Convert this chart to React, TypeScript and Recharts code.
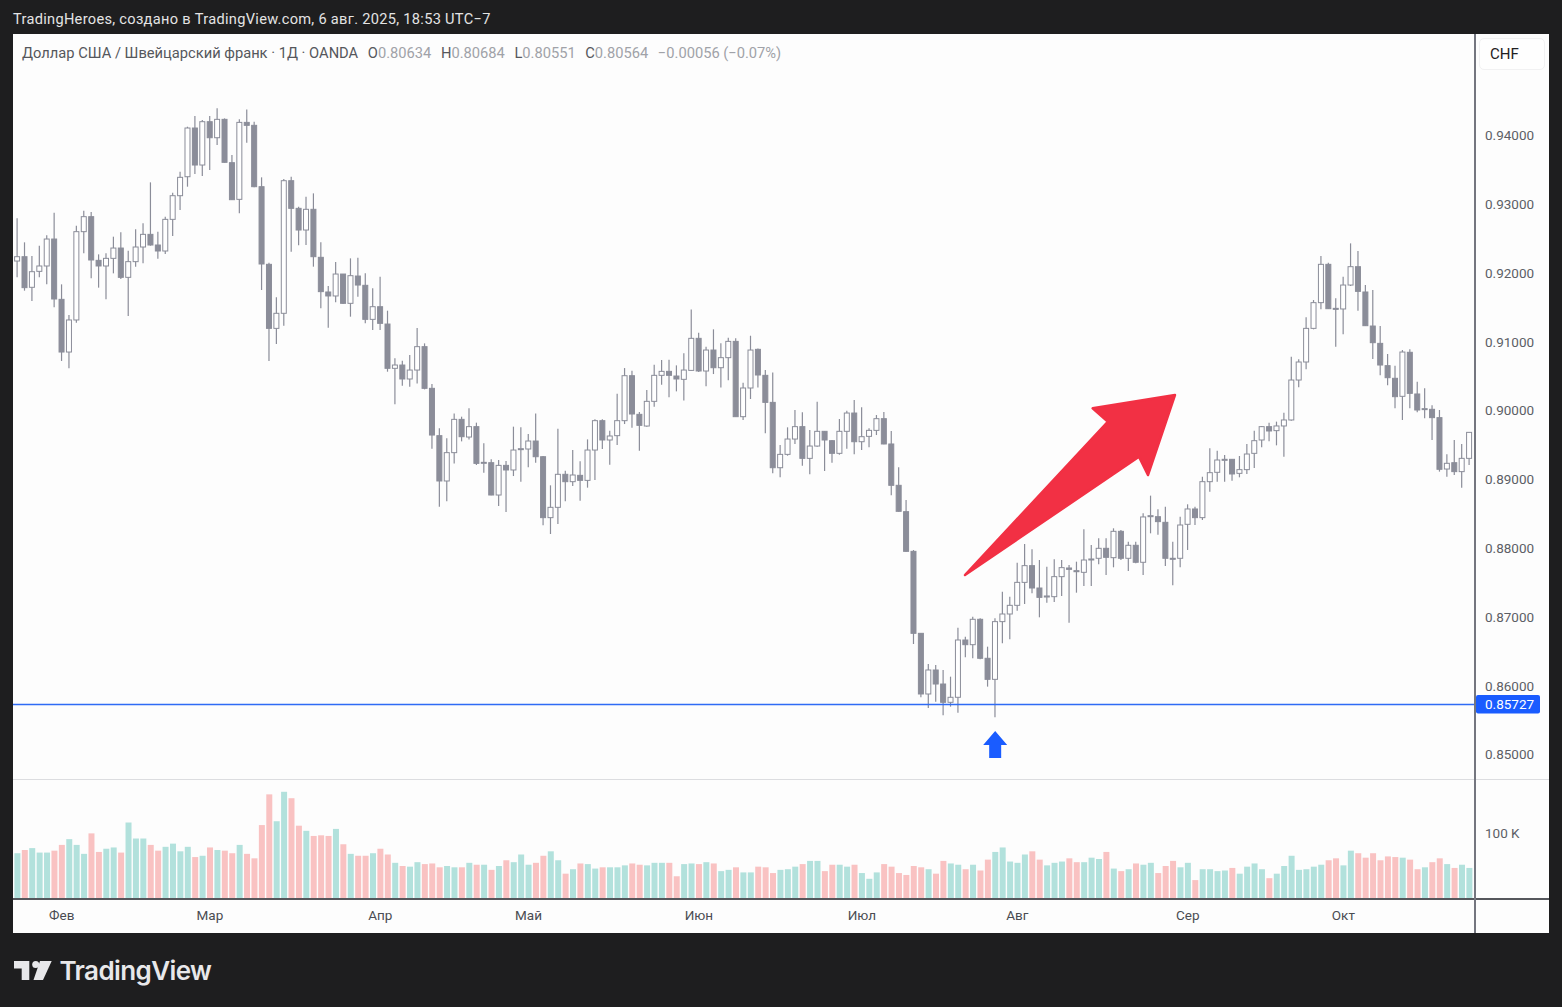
import React from "react";
import { ComposedChart, Bar, XAxis, YAxis, ReferenceLine, ReferenceDot, Cell } from "recharts";

// Prices are quoted in 1e-5 CHF units (pipettes); volumes in thousands.
const PIP = 1e-5;

const highs = [
  92796,92447,92248,92398,92549,92878,91836,91390,92689,92907,
  92888,92272,92287,92529,92592,92326,92636,92723,93319,92602,
  92820,93169,93474,94128,94283,94225,94283,94395,94249,93716,
  94235,94380,94201,93392,92151,91647,93367,93401,92965,93111,
  93159,92447,91812,92161,91986,92214,92224,91996,91778,91948,
  91453,90760,90726,90808,91201,90978,90387,89742,89597,89960,
  89912,90033,89825,89524,89292,89282,89267,89767,89757,89660,
  89960,89340,88914,89737,89127,89427,89263,89582,89873,89873,
  89708,90246,90619,90581,89980,90300,90668,90736,90741,90658,
  90833,91472,91133,90930,91182,90978,91060,91051,90406,91089,
  90905,90590,90556,89500,89757,90009,89975,89718,90130,89704,
  89573,89878,89999,90154,90048,89742,89936,89980,89704,89175,
  88700,87973,86762,86316,86302,86229,86132,86844,86714,87004,
  86980,86568,86980,87368,87295,87789,88061,87983,87828,87731,
  87838,87828,87755,87804,88274,88046,88143,88143,88289,88265,
  88095,88095,88507,88764,88565,88604,88095,88458,88638,88604,
  89040,89452,89418,89355,89292,89340,89515,89709,89777,89825,
  89840,89970,90785,90746,91356,91608,92248,92151,91633,91948,
  92432,92321,91826,91754,91230,90823,90654,90881,90891,90421,
  90324,90077,90009,89365,89573,89515,89684,
];

const opens = [
  92175,92238,91793,92025,92103,92495,91618,90852,91318,92602,
  92820,92185,92103,92214,92364,91938,92166,92379,92563,92408,
  92321,92781,93125,93401,94109,93571,94201,93968,94235,93605,
  93072,94191,94148,93256,92127,91196,91415,93343,92941,92626,
  92927,92229,91725,91667,91986,91560,91957,91822,91327,91511,
  91259,90615,90663,90460,90590,90930,90324,89636,88977,89389,
  89873,89616,89767,89238,89243,88773,89204,89137,89437,89442,
  89558,89330,88444,88594,89074,88967,89059,88986,89427,89854,
  89573,89636,89854,90508,89946,89776,90135,90513,90571,90503,
  90455,90585,91051,90576,90881,90624,90770,91007,89912,90329,
  90891,90513,90120,89170,89364,89587,89767,89306,89485,89699,
  89563,89379,89699,89965,89548,89626,89713,89883,89515,88914,
  88531,87954,86762,85880,86229,86025,85759,85832,86665,86597,
  86966,86399,86093,86932,87043,87169,87503,87746,87421,87290,
  87295,87586,87712,87673,87649,87833,87853,87998,87862,88245,
  87853,88042,87795,88458,88458,88376,87853,87853,88347,88570,
  88444,88967,89103,89277,89292,89088,89142,89379,89573,89767,
  89709,89777,89864,90445,90707,91196,91570,92127,91487,91478,
  91826,92093,91725,91230,90978,90654,90470,90208,90848,90242,
  90019,90019,89898,89151,89243,89113,89306,
];

const closes = [
  92238,91788,92020,92103,92495,91623,90852,91318,92602,92820,
  92190,92103,92214,92364,91938,92166,92379,92563,92408,92321,
  92781,93125,93392,94109,93571,94201,93968,94235,93610,93067,
  94191,94148,93256,92132,91196,91415,93343,92941,92626,92927,
  92238,91730,91667,91986,91560,91962,91826,91327,91511,91269,
  90615,90663,90460,90590,90930,90324,89645,88977,89389,89873,
  89621,89767,89233,89248,88773,89204,89137,89427,89447,89558,
  89330,88444,88594,89074,88967,89064,88986,89427,89854,89573,
  89631,89854,90508,89951,89786,90135,90513,90571,90513,90460,
  90590,91051,90576,90881,90624,90770,91007,89912,90329,90881,
  90518,90120,89170,89364,89587,89767,89306,89485,89699,89573,
  89379,89699,89965,89548,89621,89713,89883,89515,88914,88536,
  87954,86762,85880,86229,86025,85759,85832,86665,86597,86966,
  86399,86093,86932,87043,87169,87503,87746,87421,87285,87305,
  87586,87717,87692,87658,87828,87843,87998,87867,88245,87853,
  88042,87795,88454,88473,88386,87853,87843,88337,88570,88444,
  88967,89098,89282,89292,89079,89142,89369,89563,89767,89704,
  89777,89864,90445,90707,91196,91570,92127,91482,91473,91826,
  92093,91734,91235,90988,90663,90479,90203,90852,90251,90009,
  90029,89898,89147,89234,89113,89306,89684,
];

const lows = [
  91938,91744,91594,91938,91836,91502,90722,90615,91279,92287,
  91923,91788,91618,91996,91914,91376,92093,92141,92398,92209,
  92277,92539,92917,93256,93440,93411,93498,93862,93605,93062,
  92868,93896,93246,91754,90722,90969,91235,92311,92403,92408,
  92093,91487,91206,91574,91550,91366,91657,91269,91172,91172,
  90566,90091,90363,90348,90396,90309,89447,88603,88681,89233,
  89553,89582,89209,89098,88768,88613,88526,89049,88967,89175,
  89243,88332,88206,88351,88681,88904,88691,88880,88991,89442,
  89214,89500,89805,89752,89418,89767,90057,90377,90193,90280,
  90149,90581,90561,90353,90532,90338,90440,89912,89863,90169,
  90338,89670,89088,89030,89345,89515,89200,89074,89476,89122,
  89243,89359,89447,89364,89427,89466,89645,89510,88768,88531,
  87949,86607,85832,85676,85769,85570,85696,85609,86413,86399,
  86384,85987,85541,86617,86675,87091,87188,87343,86995,87208,
  87217,87305,86917,87353,87450,87450,87765,87610,87722,87828,
  87669,87780,87610,88216,88197,87741,87460,87722,87974,88337,
  88410,88822,88967,88967,88982,89030,89079,89166,89466,89554,
  89495,89331,89854,90339,90600,91182,91473,91478,90930,91109,
  91812,91453,91230,90751,90513,90368,90033,89864,90033,89975,
  89888,89573,89113,89040,89064,88880,89210,
];

const volumes = [
  70,75,78,71,71,74,83,92,83,69,101,72,77,79,71,118,93,93,83,74,80,85,73,80,64,66,79,75,74,70,83,69,62,
  114,162,120,166,156,113,105,97,98,97,108,84,69,66,66,70,77,68,55,50,49,56,53,54,48,50,48,48,55,52,52,44,50,
  59,56,68,52,55,66,73,59,38,45,54,53,46,48,48,48,51,54,52,51,55,55,55,34,53,54,53,56,54,42,44,48,40,40,49,48,39,44,45,49,53,58,58,42,52,52,49,52,39,30,40,53,49,39,36,50,48,45,38,58,54,52,45,52,43,60,72,
  79,57,55,68,73,60,51,55,57,62,56,56,63,61,72,46,42,45,54,52,55,39,50,58,48,55,28,45,45,42,43,47,38,49,54,45,31,38,50,66,44,45,49,52,59,62,51,74,70,63,70,59,65,64,63,60,45,48,56,62,53,47,52,47,
];

const priceTicks = [0.85, 0.86, 0.87, 0.88, 0.89, 0.9, 0.91, 0.92, 0.93, 0.94];
const priceDomain = [0.84644, 0.95476];
const supportLevel = 0.85727;
const monthLabels = ["Фев", "Мар", "Апр", "Май", "Июн", "Июл", "Авг", "Сер", "Окт"];
const monthStarts = [6, 26, 49, 69, 92, 114, 135, 158, 179];
const volumeTicks = [100];
const volumeDomain = [0, 186];
const legendParts = [["O", "0.80634"], ["H", "0.80684"], ["L", "0.80551"], ["C", "0.80564"]];

const rows = opens.map((o, i) => ({
  day: i,
  open: o * PIP,
  close: closes[i] * PIP,
  high: highs[i] * PIP,
  low: lows[i] * PIP,
  range: [lows[i] * PIP, highs[i] * PIP],
  volume: volumes[i],
}));

const FONT = "Roboto, sans-serif";
const CANDLE = "#8b8d99";
const UP_VOL = "#b2e1dc";
const DOWN_VOL = "#f9c2c2";
const AXIS_PADDING = { left: 0.6, right: 2 };

function Candle(props: any) {
  const { x, y, width, height, payload } = props;
  const top = Math.min(y, y + height);
  const h = Math.abs(height) || 1;
  const span = payload.high - payload.low || 1;
  const at = (p: number) => top + ((payload.high - p) / span) * h;
  const cx = x + width / 2;
  const up = payload.close >= payload.open;
  const bt = at(Math.max(payload.open, payload.close));
  const bb = at(Math.min(payload.open, payload.close));
  const bw = 5;
  return (
    <g>
      <line x1={cx} x2={cx} y1={top} y2={top + h} stroke={CANDLE} strokeWidth={1.2} />
      <rect
        x={cx - bw / 2}
        y={bt}
        width={bw}
        height={Math.max(bb - bt, 1)}
        fill={up ? "#ffffff" : CANDLE}
        stroke={CANDLE}
        strokeWidth={1}
      />
    </g>
  );
}

function RedArrow({ cx, cy }: any) {
  const pts: number[][] = [[2, 0], [-25, 80], [-34, 61.7], [-208, 180], [-65, 26.7], [-80.3, 13.3]];
  return (
    <polygon
      points={pts.map(([a, b]) => `${cx + a},${cy + b}`).join(" ")}
      fill="#f23044"
      stroke="#f23044"
      strokeWidth={2.5}
      strokeLinejoin="round"
    />
  );
}

function BlueArrow({ cx, cy }: any) {
  const pts: number[][] = [[0, 0], [12, 14], [6, 14], [6, 27], [-6, 27], [-6, 14], [-12, 14]];
  return <polygon points={pts.map(([a, b]) => `${cx + a},${cy + b}`).join(" ")} fill="#1a5cff" />;
}

function PriceTag(props: any) {
  const vb = props.viewBox || {};
  const x = (vb.x ?? 0) + (vb.width ?? 0);
  const y = vb.y ?? 0;
  return (
    <g>
      <rect x={x + 1} y={y - 9.5} width={64} height={18.5} rx={2} fill="#1a5cff" />
      <text x={x + 10} y={y + 4.5} fontFamily={FONT} fontSize={13.5} fill="#ffffff">
        {supportLevel.toFixed(5)}
      </text>
    </g>
  );
}

const abs = (s: React.CSSProperties): React.CSSProperties => ({ position: "absolute", ...s });

export default function App() {
  return (
    <div style={abs({ left: 0, top: 0, width: 1562, height: 1007, background: "#1e1e1f", overflow: "hidden", fontFamily: FONT })}>
      <div style={abs({ left: 13, top: 10, color: "#e4e4e4", fontSize: 14.6, letterSpacing: 0.3, lineHeight: "18px", whiteSpace: "nowrap" })}>
        TradingHeroes, создано в TradingView.com, 6 авг. 2025, 18:53 UTC−7
      </div>

      <div style={abs({ left: 13, top: 34, width: 1536, height: 899, background: "#fdfdfd" })} />

      <div style={abs({ left: 13, top: 34 })}>
        <ComposedChart width={1536} height={745} data={rows} margin={{ top: 0, right: 0, bottom: 0, left: 0 }} barCategoryGap={0}>
          <XAxis dataKey="day" hide padding={AXIS_PADDING} />
          <YAxis
            orientation="right"
            width={74}
            domain={priceDomain}
            ticks={priceTicks}
            allowDataOverflow
            axisLine={false}
            tickLine={false}
            tickSize={0}
            tickMargin={10}
            tick={{ fontFamily: FONT, fontSize: 13.5, fill: "#5c5f66", textAnchor: "start" }}
            tickFormatter={(v: number) => v.toFixed(5)}
          />
          <Bar dataKey="range" isAnimationActive={false} shape={<Candle />} />
          <ReferenceLine y={supportLevel} stroke="#2f6bf5" strokeWidth={1.3} label={<PriceTag />} />
          <ReferenceDot x={156} y={0.90227} shape={<RedArrow />} />
          <ReferenceDot x={132} y={0.85342} shape={<BlueArrow />} />
        </ComposedChart>
      </div>

      <div style={abs({ left: 13, top: 779 })}>
        <ComposedChart width={1536} height={154} data={rows} margin={{ top: 0, right: 0, bottom: 0, left: 0 }} barCategoryGap={0.8}>
          <XAxis
            dataKey="day"
            height={35}
            padding={AXIS_PADDING}
            ticks={monthStarts}
            interval={0}
            axisLine={false}
            tickLine={false}
            tickSize={0}
            tickMargin={12}
            tick={{ fontFamily: FONT, fontSize: 13.5, fill: "#4a4c52" }}
            tickFormatter={(v: number) => monthLabels[monthStarts.indexOf(v)] ?? ""}
          />
          <YAxis
            orientation="right"
            width={74}
            domain={volumeDomain}
            ticks={volumeTicks}
            allowDataOverflow
            axisLine={false}
            tickLine={false}
            tickSize={0}
            tickMargin={10}
            tick={{ fontFamily: FONT, fontSize: 13.5, fill: "#5c5f66", textAnchor: "start", dy: -1 }}
            tickFormatter={(v: number) => `${v} K`}
          />
          <Bar dataKey="volume" isAnimationActive={false}>
            {rows.map((r) => (
              <Cell key={r.day} fill={r.close >= r.open ? UP_VOL : DOWN_VOL} />
            ))}
          </Bar>
        </ComposedChart>
      </div>

      <div style={abs({ left: 13, top: 779, width: 1536, height: 1, background: "#dcdde0" })} />
      <div style={abs({ left: 13, top: 898, width: 1536, height: 1.5, background: "#55575c" })} />
      <div style={abs({ left: 1474, top: 34, width: 2, height: 899, background: "#74767f" })} />

      <div style={abs({ left: 22, top: 44, fontSize: 14.7, lineHeight: "18px", whiteSpace: "nowrap", color: "#55575c" })}>
        Доллар США / Швейцарский франк · 1Д · OANDA
        {legendParts.map(([k, v]) => (
          <span key={k} style={{ marginLeft: 9.6 }}>
            {k}
            <span style={{ color: "#a0a2a8" }}>{v}</span>
          </span>
        ))}
        <span style={{ marginLeft: 9.6, color: "#a0a2a8" }}>−0.00056 (−0.07%)</span>
      </div>

      <div style={abs({ left: 1479, top: 38, width: 66, height: 32, borderRadius: 5, border: "1px solid #f1f1f2", boxSizing: "border-box", background: "#fefefe" })} />
      <div style={abs({ left: 1490, top: 45, fontSize: 15, lineHeight: "18px", color: "#1f2023" })}>CHF</div>

      <svg style={abs({ left: 0, top: 940 })} width={60} height={60}>
        <polygon points="14,21 29.3,21 29.3,40 21.7,40 21.7,28.5 14,28.5" fill="#e8e8ea" />
        <circle cx={35.7} cy={24.5} r={3.5} fill="#e8e8ea" />
        <polygon points="40,21 51.7,21 43,40 33.5,40" fill="#e8e8ea" />
      </svg>
      <div style={abs({ left: 59.5, top: 955, fontFamily: "Inter, sans-serif", fontWeight: 600, fontSize: 26, lineHeight: "32px", letterSpacing: -0.6, color: "#e8e8ea", whiteSpace: "nowrap" })}>
        TradingView
      </div>
    </div>
  );
}
